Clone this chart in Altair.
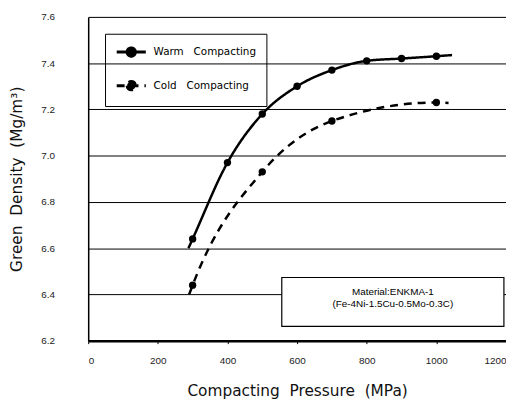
import altair as alt
import pandas as pd

# ---- data ----
series_names = ["Warm\u00a0\u00a0\u00a0Compacting", "Cold\u00a0\u00a0\u00a0Compacting"]

warm_pressure = [300, 400, 500, 600, 700, 800, 900, 1000]
warm_density = [6.64, 6.97, 7.18, 7.30, 7.37, 7.41, 7.42, 7.43]

cold_pressure = [300, 500, 700, 1000]
cold_density = [6.44, 6.93, 7.15, 7.23]

# where each drawn curve starts and ends (beyond the markers)
warm_line_ends_p = [288, 1045]
warm_line_ends_d = [6.60, 7.435]
cold_line_ends_p = [290, 1035]
cold_line_ends_d = [6.40, 7.228]

x_ticks = list(range(0, 1201, 100))
y_ticks = [6.2, 6.4, 6.6, 6.8, 7.0, 7.2, 7.4, 7.6]

note_lines = ["Material:ENKMA-1", "(Fe-4Ni-1.5Cu-0.5Mo-0.3C)"]
note_box_x = [556, 1194]
note_box_y = [6.262, 6.473]
note_text_x = 875
note_text_y = [6.41, 6.358]

# ---- tables ----
pts = pd.DataFrame(
    {"p": warm_pressure, "d": warm_density, "s": series_names[0]}
)
pts = pd.concat(
    [pts, pd.DataFrame({"p": cold_pressure, "d": cold_density, "s": series_names[1]})],
    ignore_index=True,
)

warm_line = pd.DataFrame({
    "p": [warm_line_ends_p[0]] + warm_pressure + [warm_line_ends_p[1]],
    "d": [warm_line_ends_d[0]] + warm_density + [warm_line_ends_d[1]],
    "s": series_names[0],
})
cold_line = pd.DataFrame({
    "p": [cold_line_ends_p[0]] + cold_pressure + [cold_line_ends_p[1]],
    "d": [cold_line_ends_d[0]] + cold_density + [cold_line_ends_d[1]],
    "s": series_names[1],
})
lines = pd.concat([warm_line, cold_line], ignore_index=True)

box = pd.DataFrame({"x": [note_box_x[0]], "x2": [note_box_x[1]],
                    "y": [note_box_y[0]], "y2": [note_box_y[1]]})
notes = pd.DataFrame({"x": [note_text_x] * 2, "y": note_text_y, "t": note_lines})

FONT = "Liberation Sans"
TITLE_FONT = "DejaVu Sans"

xscale = alt.Scale(domain=[0, 1200], nice=False, zero=False)
yscale = alt.Scale(domain=[6.2, 7.6], nice=False, zero=False)

x_axis = alt.Axis(
    values=x_ticks,
    labelExpr="datum.value % 200 == 0 ? datum.label : ''",
    format="d",
    title="Compacting\u00a0\u00a0Pressure\u00a0\u00a0(MPa)",
    grid=False,
    domainColor="black",
    domainWidth=2.5,
    tickColor="black",
    tickSize=3,
    labelPadding=12,
    labelFontSize=10,
    labelColor="#222",
    titleFont=TITLE_FONT,
    titleFontSize=15.5,
    titleFontWeight="normal",
    titleColor="#111",
    titlePadding=18,
)
y_axis = alt.Axis(
    values=y_ticks,
    format=".1f",
    title="Green\u00a0\u00a0Density\u00a0\u00a0(Mg/m\u00b3)",
    grid=True,
    gridColor="black",
    gridOpacity=1,
    gridWidth=1,
    domainColor="black",
    domainWidth=1.5,
    ticks=False,
    labelPadding=34,
    labelFontSize=10,
    labelColor="#222",
    titleFont=TITLE_FONT,
    titleFontSize=15.5,
    titleFontWeight="normal",
    titleColor="#111",
    titlePadding=16,
)

legend_symbol = "M-2.1,0L2.1,0M-0.6,0A0.6,0.6,0,1,0,0.6,0A0.6,0.6,0,1,0,-0.6,0Z"

line_layer = alt.Chart(lines).mark_line(
    interpolate="monotone", color="black", strokeWidth=2.5
).encode(
    x=alt.X("p:Q", scale=xscale, axis=x_axis),
    y=alt.Y("d:Q", scale=yscale, axis=y_axis),
    strokeDash=alt.StrokeDash(
        "s:N",
        scale=alt.Scale(domain=series_names, range=[[1, 0], [8, 6]]),
        legend=alt.Legend(
            title=None,
            orient="none",
            legendX=17,
            legendY=17,
            strokeColor="black",
            padding=10,
            rowPadding=13,
            symbolType=legend_symbol,
            symbolSize=196,
            symbolOffset=8,
            symbolStrokeWidth=3,
            symbolStrokeColor="black",
            symbolFillColor="black",
            labelFontSize=10.5,
            labelColor="black",
            labelFont=TITLE_FONT,
            labelOffset=14,
            labelLimit=200,
        ),
    ),
    detail="s:N",
)

point_layer = alt.Chart(pts).mark_point(
    filled=True, color="black", size=55, opacity=1
).encode(
    x=alt.X("p:Q", scale=xscale),
    y=alt.Y("d:Q", scale=yscale),
)

box_layer = alt.Chart(box).mark_rect(
    fill="white", stroke="black", strokeWidth=1.2
).encode(
    x=alt.X("x:Q", scale=xscale), x2="x2:Q",
    y=alt.Y("y:Q", scale=yscale), y2="y2:Q",
)

note_layer = alt.Chart(notes).mark_text(
    fontSize=10, font=FONT, color="black", align="center", baseline="middle"
).encode(
    x=alt.X("x:Q", scale=xscale),
    y=alt.Y("y:Q", scale=yscale),
    text="t:N",
)

chart = alt.layer(line_layer, point_layer, box_layer, note_layer).properties(
    width=422,
    height=327,
    autosize=alt.AutoSizeParams(type="none"),
    padding={"left": 81, "top": 7, "right": 0, "bottom": 64},
    background="white",
).configure_view(
    stroke="black", strokeWidth=1.5
).configure(
    font=FONT
)

chart.save("out.html", embed_options={"renderer": "svg", "actions": False})
